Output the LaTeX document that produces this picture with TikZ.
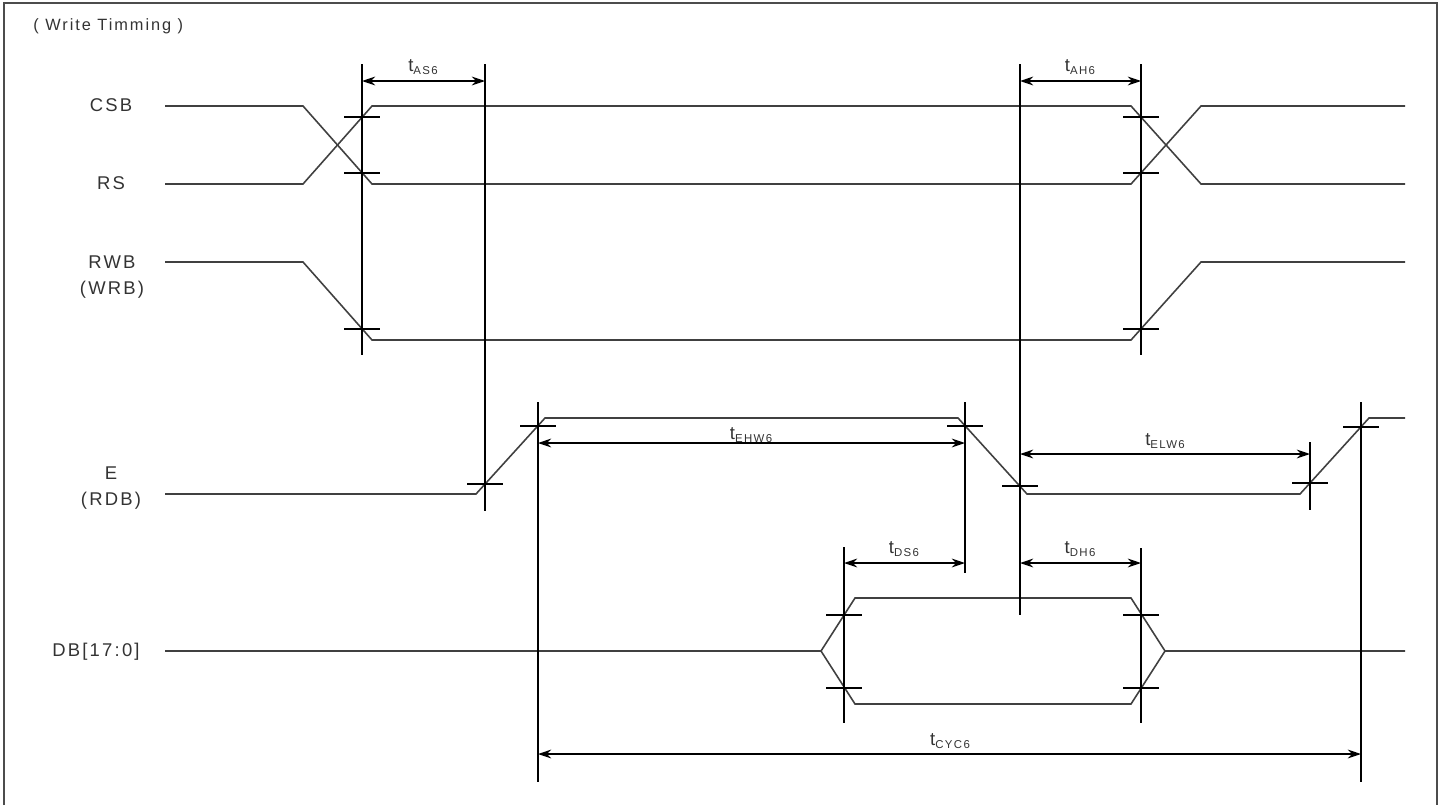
\documentclass[tikz,border=0pt]{standalone}
\usepackage{fontspec}
\setmainfont{Liberation Sans}[LetterSpace=12]
\usetikzlibrary{arrows.meta}
\tikzset{>={Stealth[length=7.5pt,width=5pt]}}
\colorlet{sigcol}{black!75}
\colorlet{txtcol}{black!80}
\newcommand{\tsub}[1]{t\raisebox{-1.3pt}{\fontsize{6.5}{7}\selectfont #1}}

\begin{document}
\begin{tikzpicture}[x=0.02cm,y=-0.02cm,
    sig/.style={draw=sigcol,line width=0.9pt,line join=miter},
    vline/.style={draw=black,line width=0.6pt},
    dim/.style={<->,draw=black,line width=0.8pt},
    lbl/.style={text=txtcol,font=\fontsize{10.5}{14.8}\selectfont,align=center,inner sep=0pt},
    tlbl/.style={text=txtcol,font=\fontsize{10.5}{12}\selectfont,inner sep=0pt}]
    \useasboundingbox (0,0) rectangle (1442,805);
    % frame and title
    \draw[black!70,line width=1.2pt] (4,805) -- (4,3) -- (1437,3) -- (1437,805);
    \node[tlbl,anchor=west,font=\fontsize{9.3}{11}\selectfont] (title) at (33,26) {( Write Timming )};

    % signal names
    \node[lbl] (csb) at (111,105) {CSB};
    \node[lbl] (rs) at (111,183) {RS};
    \node[lbl] (rwb) at (112,277) {RWB\\(WRB)};
    \node[lbl] (e) at (111,488) {E\\(RDB)};
    \node[lbl] (db) at (96,652) {DB[17:0]};

    % waveforms
    \draw[sig] (165,106) -- (303,106) -- (372,184) -- (1131,184) -- (1201,106) -- (1405,106);
    \draw[sig] (165,184) -- (303,184) -- (372,106) -- (1131,106) -- (1201,184) -- (1405,184);
    \draw[sig] (165,262) -- (303,262) -- (372,340) -- (1131,340) -- (1201,262) -- (1405,262);
    \draw[sig] (165,494) -- (476,494) -- (545,418) -- (958,418) -- (1027,494) -- (1300,494) -- (1369,418) -- (1405,418);
    \draw[sig] (165,651) -- (821,651) -- (855,598) -- (1131,598) -- (1165,651) -- (1405,651);
    \draw[sig] (821,651) -- (855,704) -- (1131,704) -- (1165,651);

    % reference lines
    \foreach \x/\ya/\yb in {362/64/355, 485/64/511, 538/402/782, 965/402/573,
                           1020/64/615, 1141/64/355, 1141/548/723, 844/547/723,
                           1310/442/510, 1361/402/782}
        \draw[vline] (\x,\ya) -- (\x,\yb);
    \foreach \x/\y in {362/117, 362/173, 362/329, 1141/117, 1141/173, 1141/329,
                       485/484, 538/426, 965/426, 1020/486, 1310/483, 1361/427,
                       844/615, 844/688, 1141/615, 1141/688}
        \draw[vline] (\x-18,\y) -- (\x+18,\y);

    % timing arrows
    \draw[dim] (362,81) -- (485,81);
    \draw[dim] (1020,81) -- (1141,81);
    \draw[dim] (538,443) -- (965,443);
    \draw[dim] (1020,454) -- (1310,454);
    \draw[dim] (844,563) -- (965,563);
    \draw[dim] (1020,563) -- (1141,563);
    \draw[dim] (538,754) -- (1361,754);
    \node[tlbl] (tas) at (423,67) {\tsub{AS6}};
    \node[tlbl] (tah) at (1080,67) {\tsub{AH6}};
    \node[tlbl] (tehw) at (751,435) {\tsub{EHW6}};
    \node[tlbl] (telw) at (1165,441) {\tsub{ELW6}};
    \node[tlbl] (tds) at (904,549) {\tsub{DS6}};
    \node[tlbl] (tdh) at (1080,549) {\tsub{DH6}};
    \node[tlbl] (tcyc) at (950,741) {\tsub{CYC6}};
\end{tikzpicture}
\end{document}
